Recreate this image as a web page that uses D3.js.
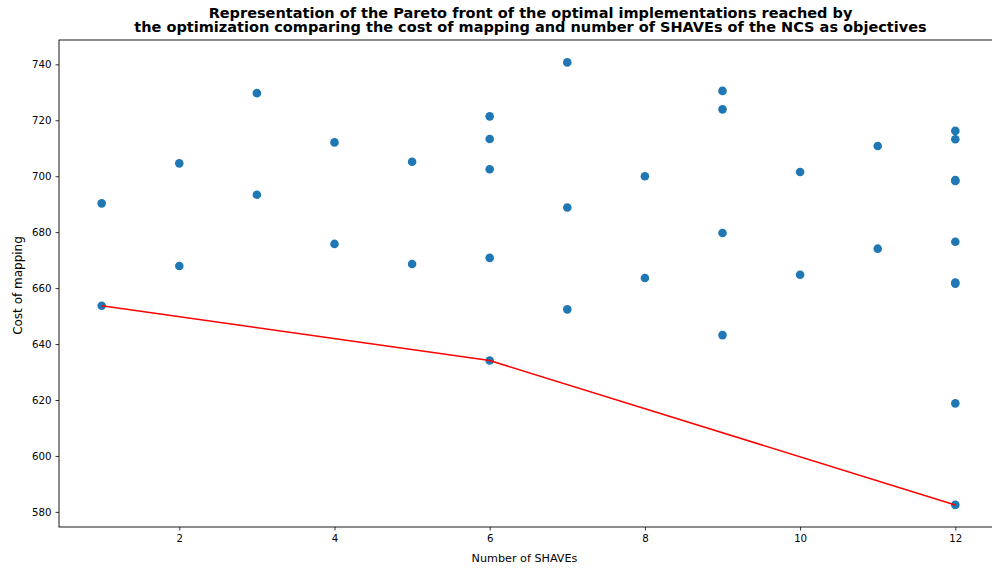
<!DOCTYPE html>
<html>
<head>
<meta charset="utf-8">
<script src="https://cdn.jsdelivr.net/npm/d3@7"></script>
<style>
  html, body { margin: 0; padding: 0; background: #fff; }
  svg { display: block; font-family: "DejaVu Sans", sans-serif; }
</style>
</head>
<body>
<svg id="chart" width="992" height="569"></svg>
<script>
// Data
const shaves = [1, 1, 2, 2, 3, 3, 4, 4, 5, 5, 6, 6, 6, 6, 6, 7, 7, 7, 8, 8, 9, 9, 9, 9, 10, 10, 11, 11, 12, 12, 12, 12, 12, 12, 12, 12, 12];
const cost   = [690.3, 653.7, 704.6, 667.9, 729.7, 693.4, 712.1, 675.8, 705.2, 668.6, 721.4, 713.3, 702.5, 670.8, 634.1, 740.7, 688.8, 652.4, 700.0, 663.6, 730.5, 723.9, 679.7, 643.2, 701.5, 664.8, 710.8, 674.1, 716.2, 713.2, 698.3, 698.6, 676.6, 661.6, 662.0, 618.8, 582.5];
const frontShaves = [1, 6, 12];
const frontCost   = [653.7, 634.1, 582.5];
const xTicks = [2, 4, 6, 8, 10, 12];
const yTicks = [580, 600, 620, 640, 660, 680, 700, 720, 740];
const titleLines = [
  "Representation of the Pareto front of the optimal implementations reached by",
  "the optimization comparing the cost of mapping and number of SHAVEs of the NCS as objectives"
];
const xLabel = "Number of SHAVEs";
const yLabel = "Cost of mapping";

const svg = d3.select("#chart");
const mLeft = 59, mTop = 40, mBottom = 527, mRight = 998;

const x = d3.scaleLinear().domain([0.45, 12.55]).range([mLeft, mRight]);
const y = d3.scaleLinear().domain([574.6, 748.7]).range([mBottom, mTop]);

// frame (left, top, bottom; right is beyond the canvas)
svg.append("rect")
  .attr("x", mLeft).attr("y", mTop)
  .attr("width", mRight - mLeft).attr("height", mBottom - mTop)
  .attr("fill", "none").attr("stroke", "#000").attr("stroke-width", 0.9);

// Axes
const xAxis = d3.axisBottom(x).tickValues(xTicks).tickSize(3.5).tickPadding(4).tickFormat(d3.format("d"));
const yAxis = d3.axisLeft(y).tickValues(yTicks).tickSize(3.5).tickPadding(4).tickFormat(d3.format("d"));

const gx = svg.append("g").attr("transform", `translate(0,${mBottom})`).call(xAxis);
const gy = svg.append("g").attr("transform", `translate(${mLeft},0)`).call(yAxis);
[gx, gy].forEach(g => {
  g.select(".domain").remove();
  g.selectAll("text").attr("font-family", "DejaVu Sans").attr("font-size", 10.2).attr("fill", "#000");
  g.selectAll("line").attr("stroke", "#000").attr("stroke-width", 0.8);
});

// Scatter points
const pts = shaves.map((s, i) => ({ s, c: cost[i] }));
svg.append("g").selectAll("circle").data(pts).join("circle")
  .attr("cx", d => x(d.s)).attr("cy", d => y(d.c))
  .attr("r", 4.3).attr("fill", "#1f77b4");

// Pareto front line
const front = frontShaves.map((s, i) => ({ s, c: frontCost[i] }));
svg.append("path").datum(front)
  .attr("d", d3.line().x(d => x(d.s)).y(d => y(d.c)))
  .attr("fill", "none").attr("stroke", "red").attr("stroke-width", 1.6);

// Title
const tcx = (mLeft + mRight) / 2;
svg.append("g").selectAll("text").data(titleLines).join("text")
  .attr("x", tcx + 2).attr("y", (d, i) => 17.5 + i * 14.5)
  .attr("text-anchor", "middle").attr("font-weight", "bold")
  .attr("font-size", 14.5).attr("fill", "#000").text(d => d);

// Axis labels
svg.append("text").attr("x", tcx - 4).attr("y", 561.5)
  .attr("text-anchor", "middle").attr("font-size", 11.2).attr("fill", "#000").text(xLabel);
svg.append("text").attr("transform", `translate(22,${(mTop + mBottom) / 2 + 2}) rotate(-90)`)
  .attr("text-anchor", "middle").attr("font-size", 12).attr("fill", "#000").text(yLabel);
</script>
</body>
</html>
